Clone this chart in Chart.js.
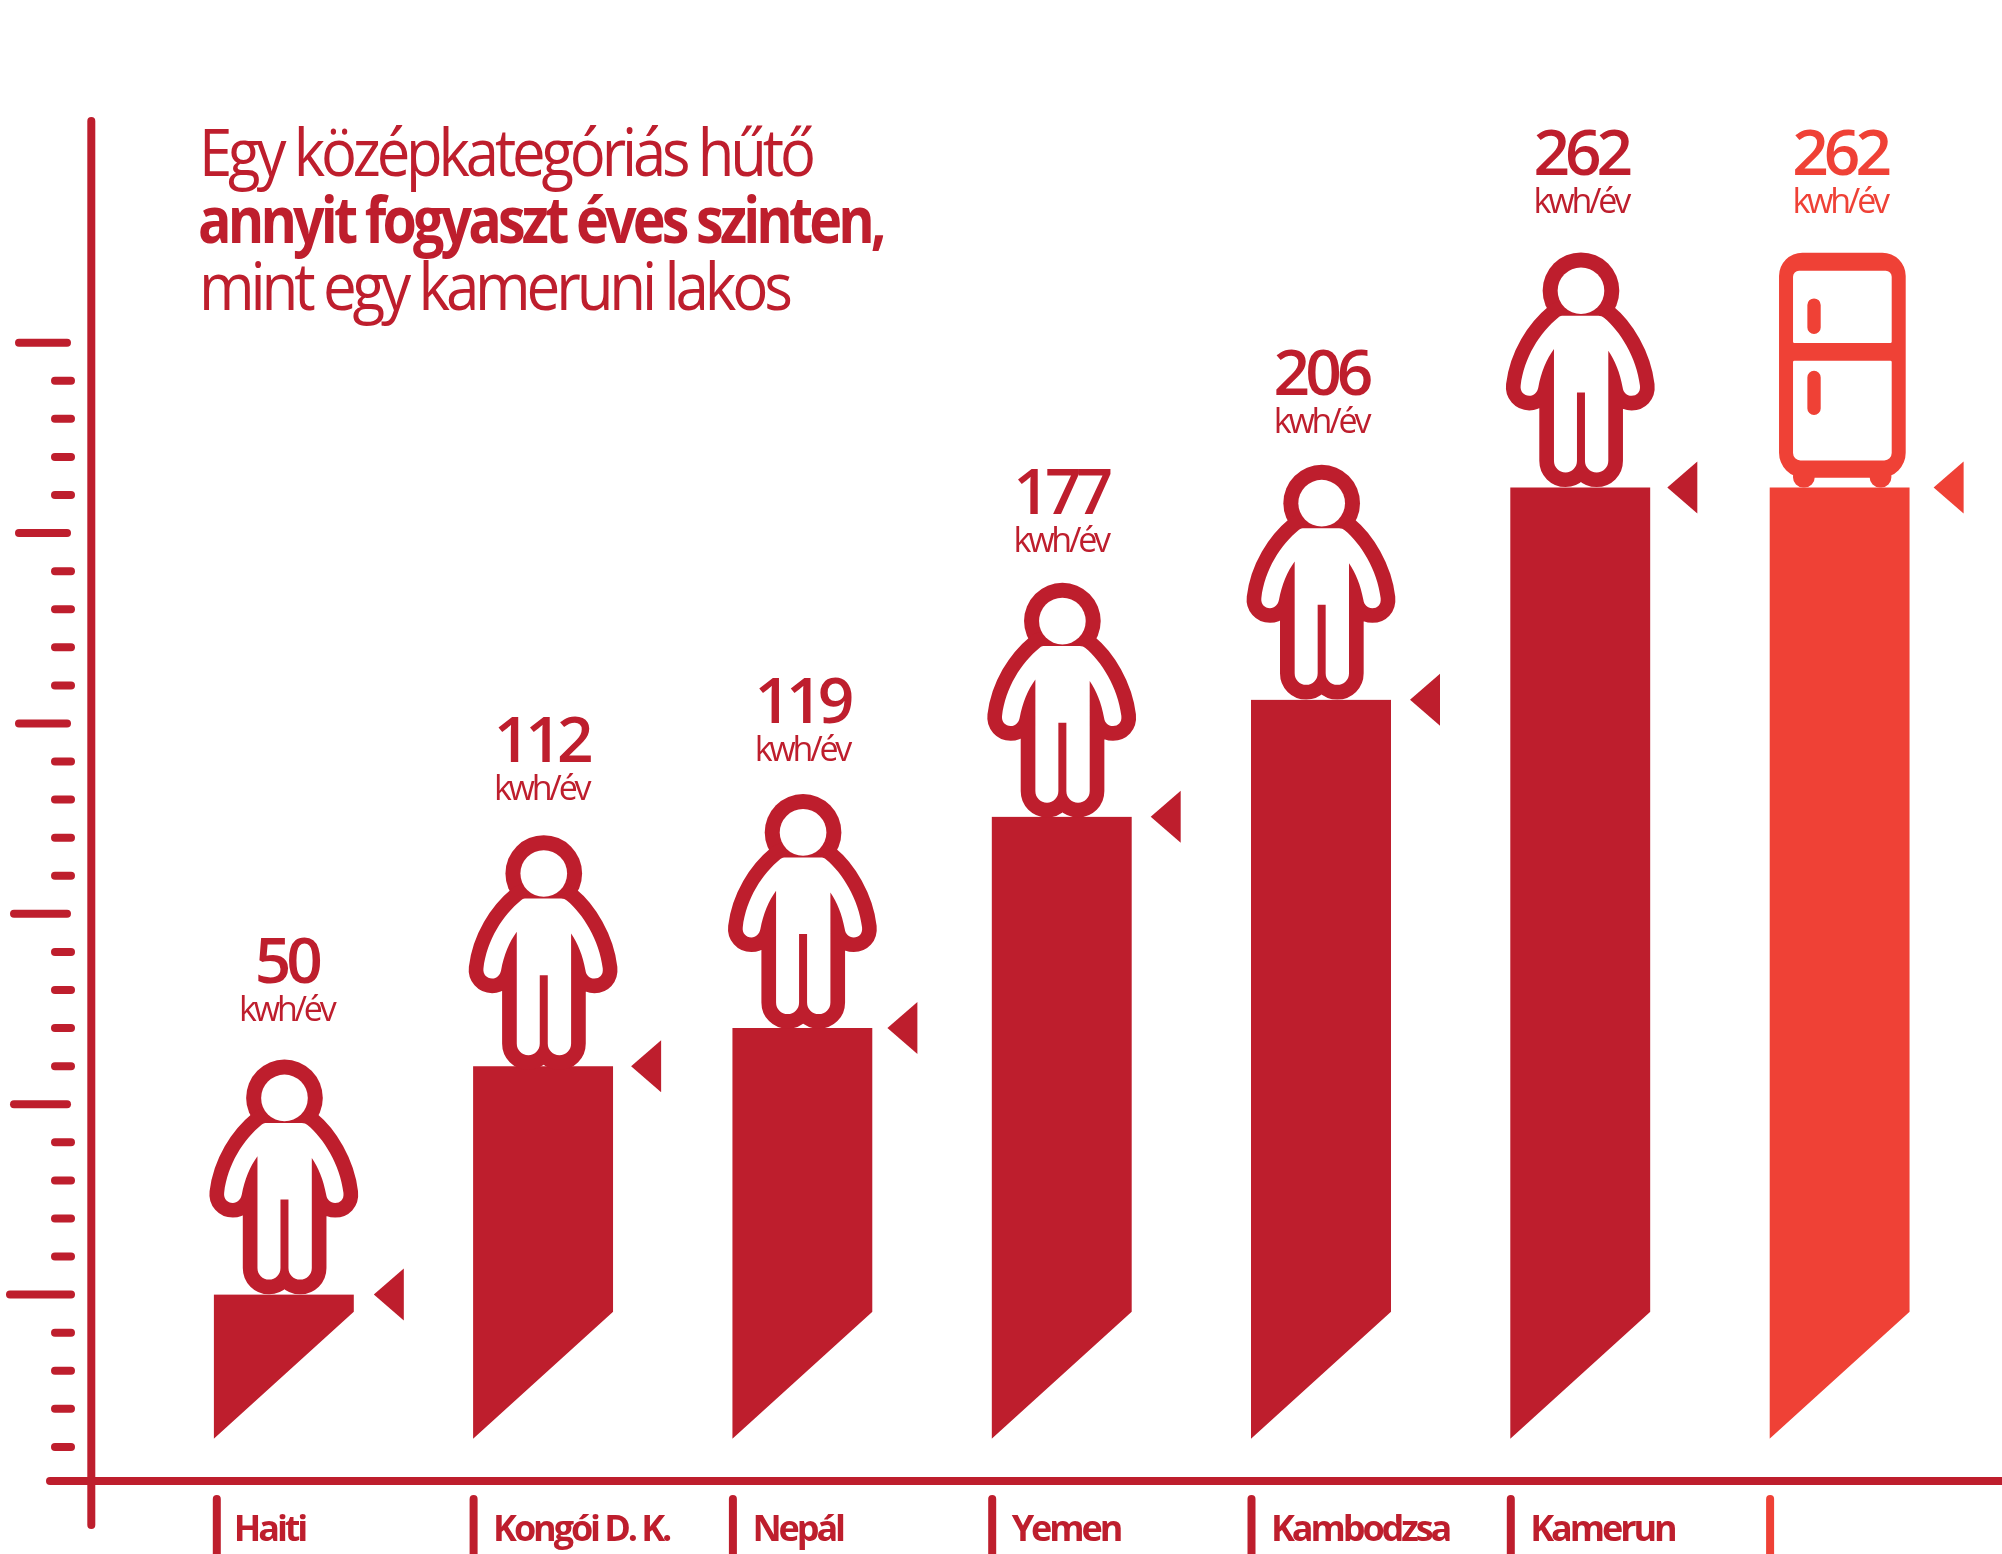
<!DOCTYPE html>
<html>
<head>
<meta charset="utf-8">
<title>Hűtő</title>
<script src="https://cdn.jsdelivr.net/npm/chart.js@4"></script>
<style>
  html, body { margin: 0; background: #fff; }
  canvas { display: block; }
</style>
</head>
<body>
<canvas id="myChart" width="2002" height="1554"></canvas>
<script>
// data
var categories = ['Haiti', 'Kongói D. K.', 'Nepál', 'Yemen', 'Kambodzsa', 'Kamerun', ''];
var barValues = [50, 110, 120, 175.5, 206.2, 262, 262];   // bar tops as they sit on the axis
var valueLabels = ['50', '112', '119', '177', '206', '262', '262'];   // printed numbers
var unitLabel = 'kwh/év';
var titleLines = ['Egy középkategóriás hűtő', 'annyit fogyaszt éves szinten,', 'mint egy kameruni lakos'];

var RED = '#BE1E2D';
var LIGHT = '#EF4136';
var FONT = '"Open Sans"';

// bottom of every bar is cut off on a slant, these are the axis values of the cut
var CUT_LEFT = 12.15;
var CUT_RIGHT = 45.5;

// small hand placement differences in the original
var labelLift = [312, 304.5, 305, 303, 304.5, 312, 312];
var labelShift = [2.5, -2, -0.5, -1, 0, 0.5, 0];
var personDrop = [0, 4, 1, 1, 0, 0, 0];
var arrowGap = [20, 18, 15, 19, 19, 17, 24];
var majorLeft = { 300: 15, 250: 15, 200: 15, 150: 10, 100: 10, 50: 6 };

function colorAt(i) {
  return i === categories.length - 1 ? LIGHT : RED;
}

function text(ctx, str, x, y, font, color, spacing, align, squeeze) {
  ctx.save();
  ctx.translate(x, y);
  ctx.scale(squeeze || 1, 1);
  ctx.font = font;
  ctx.fillStyle = color;
  ctx.letterSpacing = spacing + 'px';
  ctx.textAlign = align || 'left';
  ctx.textBaseline = 'alphabetic';
  ctx.fillText(str, 0, 0);
  ctx.restore();
}

function capLine(ctx, x1, y1, x2, y2, color) {
  ctx.beginPath();
  ctx.moveTo(x1, y1);
  ctx.lineTo(x2, y2);
  ctx.strokeStyle = color;
  ctx.lineWidth = 8;
  ctx.lineCap = 'round';
  ctx.stroke();
}

// icon outlines were traced at 3x, origin is the middle of the bar top
function drawPerson(ctx, x, y) {
  ctx.save();
  ctx.translate(x, y);
  ctx.scale(1 / 3, 1 / 3);
  ctx.translate(-301, -1160);
  ctx.fillStyle = RED;
  ctx.beginPath();
  ctx.arc(303, 570, 115, 0, Math.PI * 2);
  ctx.fill();

  var body = new Path2D('M250,645 L355,645 C362,645 368,647 372,651 C420,690 470,770 480,855 ' +
    'C482,875 470,885 455,885 C440,885 430,875 428,860 C420,815 405,780 385,750 ' +
    'L385,1080 C385,1100 370,1115 350,1115 C330,1115 315,1100 315,1080 L315,875 L291,875 L291,1080 ' +
    'C291,1100 276,1115 257,1115 C237,1115 222,1100 222,1080 L222,745 ' +
    'C200,775 183,815 175,860 C172,875 162,885 148,885 C132,885 120,872 122,855 ' +
    'C132,770 180,695 235,650 C240,646 245,645 250,645 Z');
  ctx.strokeStyle = RED;
  ctx.lineWidth = 88;
  ctx.lineJoin = 'round';
  ctx.stroke(body);
  ctx.fillStyle = '#fff';
  ctx.fill(body);

  ctx.beginPath();
  ctx.arc(303, 570, 70, 0, Math.PI * 2);
  ctx.fill();
  ctx.restore();
}

function drawFridge(ctx, x, y) {
  ctx.save();
  ctx.translate(x, y);
  ctx.scale(1 / 3, 1 / 3);
  ctx.translate(-1079.7, -1160);
  ctx.fillStyle = LIGHT;
  ctx.beginPath();
  ctx.roundRect(898, 456, 380, 675, [70, 70, 75, 75]);
  ctx.roundRect(940, 1090, 65, 70, 30);
  ctx.roundRect(1170, 1090, 65, 70, 30);
  ctx.fill();
  ctx.fillStyle = '#fff';
  ctx.beginPath();
  ctx.roundRect(940, 510, 296, 217, [18, 18, 4, 4]);
  ctx.roundRect(940, 780, 296, 299, [4, 4, 22, 22]);
  ctx.fill();
  ctx.fillStyle = LIGHT;
  ctx.beginPath();
  ctx.roundRect(983, 593, 40, 107, 20);
  ctx.roundRect(983, 810, 40, 133, 20);
  ctx.fill();
  ctx.restore();
}

// bars are plain bars from the axis, this clips the slanted bottoms
var slantPlugin = {
  id: 'slant',
  beforeDatasetsDraw: function (chart) {
    var ctx = chart.ctx, y = chart.scales.y;
    ctx.save();
    ctx.beginPath();
    chart.getDatasetMeta(0).data.forEach(function (bar) {
      var l = bar.x - bar.width / 2, r = bar.x + bar.width / 2;
      ctx.moveTo(l, bar.y);
      ctx.lineTo(r, bar.y);
      ctx.lineTo(r, y.getPixelForValue(CUT_RIGHT));
      ctx.lineTo(l, y.getPixelForValue(CUT_LEFT));
      ctx.closePath();
    });
    ctx.clip();
  },
  afterDatasetsDraw: function (chart) {
    chart.ctx.restore();
  }
};

var decorPlugin = {
  id: 'decor',
  beforeDraw: function (chart) {
    chart.ctx.letterSpacing = '-3.1px';  // for the category ticks
  },
  afterDraw: function (chart) {
    var ctx = chart.ctx, y = chart.scales.y;
    ctx.save();

    // axes
    capLine(ctx, 91.3, 121, 91.3, 1525, RED);
    capLine(ctx, 50, 1481, 2010, 1481, RED);

    // value axis marks
    y.ticks.forEach(function (t) {
      if (t.value <= 0 || t.value > 300) return;
      var py = y.getPixelForValue(t.value);
      if (t.value % 50 === 0) {
        capLine(ctx, majorLeft[t.value] + 4, py, (t.value === 50 ? 75 : 71) - 4, py, RED);
      } else {
        capLine(ctx, 55, py, 71, py, RED);
      }
    });

    chart.getDatasetMeta(0).data.forEach(function (bar, i) {
      var left = bar.x - bar.width / 2, right = bar.x + bar.width / 2, c = colorAt(i);

      // category marks
      capLine(ctx, left + (i === 0 ? 3 : 0.5), 1499, left + (i === 0 ? 3 : 0.5), 1570, c);

      // arrow next to the bar top
      ctx.fillStyle = c;
      ctx.beginPath();
      ctx.moveTo(right + arrowGap[i], bar.y);
      ctx.lineTo(right + arrowGap[i] + 30, bar.y - 26);
      ctx.lineTo(right + arrowGap[i] + 30, bar.y + 26);
      ctx.closePath();
      ctx.fill();

      if (i === categories.length - 1) drawFridge(ctx, bar.x, bar.y);
      else drawPerson(ctx, bar.x, bar.y + personDrop[i]);

      var tx = bar.x + labelShift[i];
      var by = bar.y - labelLift[i];
      text(ctx, valueLabels[i], tx, by, '600 64px ' + FONT, c, -5, 'center');
      text(ctx, unitLabel, tx, by + 38, '400 34px ' + FONT, c, -3.2, 'center');
    });

    // heading
    text(ctx, titleLines[0], 199, 175.5, '400 65px ' + FONT, RED, -4.5, 'left', 0.92);
    text(ctx, titleLines[1], 198, 242.5, '700 65px ' + FONT, RED, -4.5, 'left', 0.855);
    text(ctx, titleLines[2], 199, 310, '400 65px ' + FONT, RED, -4.5, 'left', 0.925);
    ctx.restore();
  }
};

var ctx = document.getElementById('myChart').getContext('2d');
var myChart = new Chart(ctx, {
  type: 'bar',
  data: {
    labels: categories,
    datasets: [{
      data: barValues,
      backgroundColor: categories.map(function (c, i) { return colorAt(i); }),
      barThickness: 140,
      borderWidth: 0
    }]
  },
  options: {
    responsive: false,
    animation: false,
    layout: { padding: { left: 154.15, right: 32.75, top: 0, bottom: 0 } },
    plugins: { legend: { display: false }, tooltip: { enabled: false } },
    scales: {
      x: {
        grid: { display: false, drawTicks: false },
        border: { display: false },
        afterFit: function (scale) { scale.height = 69; },
        ticks: {
          align: 'start',
          labelOffset: -50,
          padding: 24.5,
          autoSkip: false,
          maxRotation: 0,
          minRotation: 0,
          color: RED,
          font: { family: 'Open Sans', size: 36, weight: '700' }
        }
      },
      y: {
        display: false,
        min: 0,
        max: 390,
        ticks: { stepSize: 10 }
      }
    }
  },
  plugins: [slantPlugin, decorPlugin]
});
</script>
</body>
</html>
